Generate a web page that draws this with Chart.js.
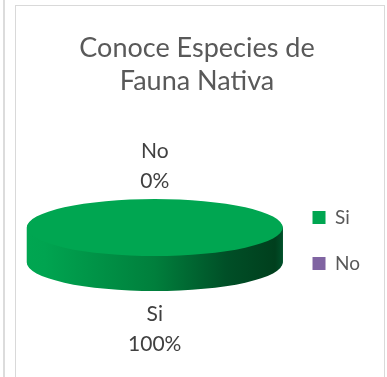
<!DOCTYPE html>
<html>
<head>
<meta charset="utf-8">
<script src="https://cdn.jsdelivr.net/npm/chart.js@4/dist/chart.umd.min.js"></script>
<style>
  html, body { margin: 0; padding: 0; background: #fff; overflow: hidden; }
  #edge { position: absolute; left: 3px; top: 0; width: 2px; height: 377px; background: #dcdcdc; }
  #frame { position: absolute; left: 15px; top: 5px; width: 370px; height: 380px;
           border: 1px solid #d9d9d9; box-sizing: border-box; }
  #frame canvas { display: block; }
</style>
</head>
<body>
<div id="edge"></div>
<div id="frame"><canvas id="faunaChart" width="366" height="371"></canvas></div>
<script>
const categories = ['Si', 'No'];
const percentages = [100, 0];
const sliceColors = ['#00a651', '#8064a2'];
const chartTitle = ['Conoce Especies de', 'Fauna Nativa'];

// 3D disc look
const TILT = 28.5 / 128;   // vertical squash of the top face
const DEPTH = 35;          // thickness of the disc
const LIFT = 13;           // top face sits this far above the chart-area centre
const LABEL_FONT = '21px Lato';
const LABEL_LINE = 30;

function faceTransform(ctx, arc) {
  ctx.translate(0, arc.y - LIFT);
  ctx.scale(1, TILT);
  ctx.translate(0, -arc.y);
}

const pie3d = {
  id: 'pie3d',
  beforeDatasetsDraw(chart) {
    const ctx = chart.ctx;
    const arcs = chart.getDatasetMeta(0).data;
    const c = arcs[0];
    const side = ctx.createLinearGradient(c.x - c.outerRadius, 0, c.x + c.outerRadius, 0);
    side.addColorStop(0, '#00a651');
    side.addColorStop(0.07, '#00a450');
    side.addColorStop(0.5, '#007f3c');
    side.addColorStop(0.78, '#004f27');
    side.addColorStop(0.97, '#003f1d');
    side.addColorStop(1, '#00502a');

    // side wall: stack the slice shape downwards
    arcs.forEach(arc => {
      if (arc.endAngle - arc.startAngle <= 0) return;
      for (let d = DEPTH; d >= 1; d--) {
        ctx.save();
        ctx.translate(0, d);
        faceTransform(ctx, arc);
        ctx.beginPath();
        ctx.moveTo(arc.x, arc.y);
        ctx.arc(arc.x, arc.y, arc.outerRadius, arc.startAngle, arc.endAngle);
        ctx.closePath();
        ctx.fillStyle = side;
        ctx.fill();
        ctx.restore();
      }
    });

    // top face is drawn by the library under this transform
    ctx.save();
    faceTransform(ctx, c);
  },
  afterDatasetsDraw(chart) {
    const ctx = chart.ctx;
    ctx.restore();

    const arcs = chart.getDatasetMeta(0).data;
    ctx.save();
    ctx.font = LABEL_FONT;
    ctx.fillStyle = '#404040';
    ctx.textAlign = 'center';
    ctx.textBaseline = 'middle';
    arcs.forEach((arc, i) => {
      const mid = (arc.startAngle + arc.endAngle) / 2;
      const cos = Math.cos(mid), sin = Math.sin(mid);
      const ex = arc.x + arc.outerRadius * cos;
      let ey = arc.y - LIFT + arc.outerRadius * TILT * sin;
      const lines = [categories[i], percentages[i] + '%'];
      if (sin > 0) {
        ey += DEPTH;
        lines.forEach((t, j) => ctx.fillText(t, ex, ey + 23 + j * LABEL_LINE));
      } else {
        lines.forEach((t, j) => ctx.fillText(t, ex, ey - 18 - (lines.length - 1 - j) * LABEL_LINE));
      }
    });
    ctx.restore();
  }
};

new Chart(document.getElementById('faunaChart'), {
  type: 'pie',
  data: {
    labels: categories,
    datasets: [{
      data: percentages,
      backgroundColor: sliceColors,
      borderWidth: 0,
      radius: 128
    }]
  },
  options: {
    responsive: false,
    animation: false,
    layout: { padding: { left: 8, right: 12, top: 0, bottom: 0 } },
    plugins: {
      title: {
        display: true,
        text: chartTitle,
        color: '#595959',
        font: { family: 'Lato', size: 27, weight: 'normal', lineHeight: 33 / 27 },
        padding: { top: 25.5, bottom: 6.5 }
      },
      legend: {
        position: 'right',
        fullSize: false,
        labels: {
          boxWidth: 13,
          boxHeight: 13,
          padding: 27,
          color: '#595959',
          font: { family: 'Lato', size: 19 }
        }
      },
      tooltip: { enabled: false }
    }
  },
  plugins: [pie3d]
});
</script>
</body>
</html>
